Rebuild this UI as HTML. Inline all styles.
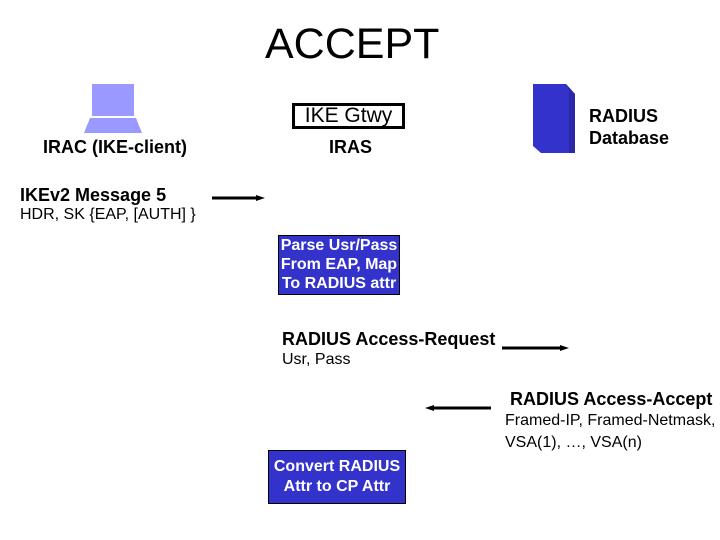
<!DOCTYPE html>
<html><head><meta charset="utf-8"><style>
body{margin:0;width:720px;height:540px;background:#fff;position:relative;overflow:hidden;font-family:"Liberation Sans",Arial,sans-serif;}
.t{position:absolute;white-space:nowrap;color:#000;}
.b{font-weight:bold;font-size:18px;}
.n{font-size:16px;}
.box{position:absolute;background:#3333cc;border:1px solid #000;color:#fff;font-weight:bold;font-size:16px;text-align:center;line-height:19px;}
</style></head><body>
<div class="t" style="left:265px;top:20px;font-size:43px;">ACCEPT</div>
<svg style="position:absolute;left:0;top:0" width="720" height="540">
<rect x="92" y="84" width="42" height="32" fill="#9999ff"/>
<polygon points="90,118 136,118 142,133 84,133" fill="#9999ff"/>
<polygon points="533,84 566,84 575,94 575,153 541,153 533,146" fill="#3333cc"/>
<polygon points="566,84 575,94 575,153 569,153 569,90" fill="#2a2aa8"/>
<line x1="212" y1="198" x2="258" y2="198" stroke="#000" stroke-width="3"/>
<polygon points="256,195 265,198 256,201" fill="#000"/>
<line x1="502" y1="348" x2="562" y2="348" stroke="#000" stroke-width="3"/>
<polygon points="560,345 569,348 560,351" fill="#000"/>
<line x1="433" y1="408" x2="491" y2="408" stroke="#000" stroke-width="3"/>
<polygon points="434,405 425,408 434,411" fill="#000"/>
</svg>
<div class="t" style="left:292px;top:103px;width:113px;height:26px;border:3px solid #000;box-sizing:border-box;font-size:21px;line-height:20px;text-align:center;">IKE Gtwy</div>
<div class="t b" style="left:43px;top:137px;">IRAC (IKE-client)</div>
<div class="t b" style="left:329px;top:137px;">IRAS</div>
<div class="t b" style="left:589px;top:106px;">RADIUS</div>
<div class="t b" style="left:589px;top:128px;">Database</div>
<div class="t b" style="left:20px;top:185px;">IKEv2 Message 5</div>
<div class="t n" style="left:20px;top:206px;">HDR, SK {EAP, [AUTH] }</div>
<div class="box" style="left:278px;top:235px;width:120px;height:58px;">Parse Usr/Pass<br>From EAP, Map<br>To RADIUS attr</div>
<div class="t b" style="left:282px;top:329px;">RADIUS Access-Request</div>
<div class="t n" style="left:282px;top:351px;">Usr, Pass</div>
<div class="t b" style="left:510px;top:389px;">RADIUS Access-Accept</div>
<div class="t n" style="left:505px;top:412px;">Framed-IP, Framed-Netmask,</div>
<div class="t n" style="left:505px;top:434px;">VSA(1), …, VSA(n)</div>
<div class="box" style="left:268px;top:450px;width:138px;height:54px;line-height:20px;padding-top:6px;box-sizing:border-box;">Convert RADIUS<br>Attr to CP Attr</div>
</body></html>
